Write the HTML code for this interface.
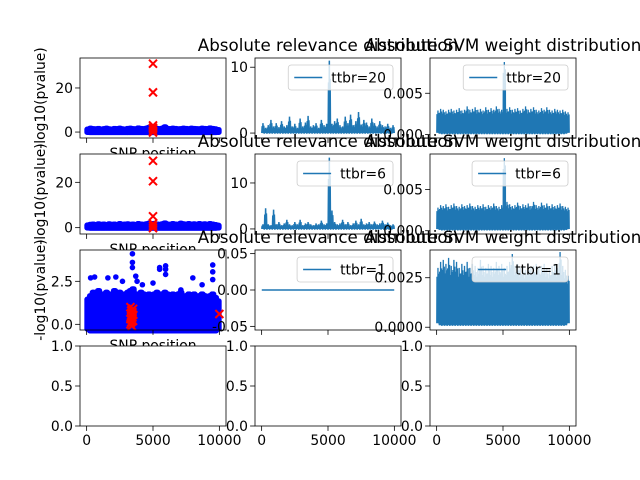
<!DOCTYPE html>
<html><head><meta charset="utf-8"><style>
html,body{margin:0;padding:0;background:#fff;}
svg{display:block;font-family:"DejaVu Sans","Liberation Sans",sans-serif;}
</style></head><body>
<svg id="fig" width="640" height="480" viewBox="0 0 640 480"></svg>
<script>
// ---------- data (50 bins of 200 SNPs each, 0..9999) ----------
const binCenters = [100,300,500,700,900,1100,1300,1500,1700,1900,2100,2300,2500,2700,2900,3100,3300,3500,3700,3900,4100,4300,4500,4700,4900,5100,5300,5500,5700,5900,6100,6300,6500,6700,6900,7100,7300,7500,7700,7900,8100,8300,8500,8700,8900,9100,9300,9500,9700,9900];
const xTicks = [0,5000,10000];
// column 1: -log10(pvalue) scatter envelopes
const pvalHigh20 = [2.4,2.8,2.6,2.5,2.7,2.4,2.6,2.8,2.5,2.4,2.7,2.6,2.8,2.5,2.4,2.7,2.8,2.6,2.5,2.9,2.7,2.6,2.8,3.2,3.0,3.1,2.7,2.6,2.8,3.4,2.7,2.6,2.8,2.7,2.5,2.6,2.8,2.7,2.5,2.8,2.7,2.6,2.5,2.8,2.7,2.6,2.9,2.7,2.5,2.2];
const pvalHigh6 = [2.2,2.5,2.6,2.4,2.7,2.5,2.6,2.4,2.7,2.5,2.6,2.4,2.8,2.5,2.6,2.7,2.5,2.6,2.4,2.8,2.6,2.5,2.7,3.0,2.8,2.9,2.6,2.5,2.7,3.1,2.6,2.5,2.8,2.6,2.5,3.0,2.7,2.6,2.8,2.6,2.7,2.5,2.8,2.6,2.7,2.5,2.8,2.6,2.4,2.1];
const pvalHigh1 = [1.6,1.8,2.0,1.9,2.1,1.8,1.9,2.0,1.9,1.8,2.1,1.9,2.0,1.8,1.9,2.0,2.1,2.2,1.9,1.8,2.0,1.9,1.8,1.9,1.8,1.9,2.0,1.8,1.9,2.0,1.9,1.8,1.9,1.8,1.9,2.0,1.7,1.8,1.9,1.8,1.9,1.7,1.8,1.9,1.8,1.7,1.8,1.9,1.7,1.5];
const pvalLow = [-0.3,-0.4,-0.4,-0.4,-0.4,-0.4,-0.4,-0.4,-0.4,-0.4,-0.4,-0.4,-0.4,-0.4,-0.4,-0.4,-0.4,-0.4,-0.4,-0.4,-0.4,-0.4,-0.4,-0.4,-0.4,-0.4,-0.4,-0.4,-0.4,-0.4,-0.4,-0.4,-0.4,-0.4,-0.4,-0.4,-0.4,-0.4,-0.4,-0.4,-0.4,-0.4,-0.4,-0.4,-0.4,-0.4,-0.4,-0.4,-0.4,-0.3];
const outX1 = [300,600,1600,2200,2700,3450,3450,3450,3700,3800,4200,5000,5500,5500,5950,5950,5950,7100,8000,8700,9500,9500,9500];
const outY1 = [2.7,2.75,2.7,2.75,2.5,4.1,3.6,3.3,2.8,2.5,2.3,2.4,3.3,3.2,3.4,3.2,2.9,2.0,2.7,2.3,3.45,3.05,2.6];
const causalX20 = [5000,5000,5000,5000,5000,5000,5000];
const causalY20 = [31,18,3,2,1.5,0.5,-0.2];
const causalX6 = [5000,5000,5000,5000,5000,5000];
const causalY6 = [29.5,20.5,5,1.8,0.8,-0.2];
const causalX1 = [3300,3350,3400,3450,3500,3300,3400,3500,3350,3450,3300,3400,3500,3350,3450,10000];
const causalY1 = [1.0,0.8,0.6,0.4,0.2,0.0,-0.1,0.9,0.5,0.7,0.3,0.15,0.55,0.1,0.85,0.6];
// column 2: absolute relevance envelopes
const relHigh20 = [1.5,0.8,1.2,2.0,1.0,1.5,0.9,1.8,1.0,1.2,2.5,1.0,1.4,0.8,2.2,1.0,1.6,2.6,1.0,1.2,1.5,0.8,2.0,1.2,1.4,11.0,1.4,1.8,2.2,1.2,1.0,2.5,1.5,2.8,1.2,1.8,3.2,1.3,2.0,1.6,1.0,2.2,1.5,1.0,1.8,1.2,1.0,1.4,0.8,1.2];
const relHigh6 = [1.0,4.5,1.0,0.8,4.2,1.0,1.5,0.8,1.2,2.0,1.0,0.8,1.5,1.0,2.0,0.8,1.2,1.5,1.0,0.8,1.2,1.0,1.8,1.0,1.2,15.5,4.0,1.5,1.0,1.2,2.0,1.0,1.5,0.8,1.2,1.8,1.0,2.2,1.0,1.2,1.5,1.0,1.6,1.0,1.2,1.8,1.0,1.4,0.8,1.0];
const relHigh1 = [0,0,0,0,0,0,0,0,0,0,0,0,0,0,0,0,0,0,0,0,0,0,0,0,0,0,0,0,0,0,0,0,0,0,0,0,0,0,0,0,0,0,0,0,0,0,0,0,0,0];
const relLow = [0,0,0,0,0,0,0,0,0,0,0,0,0,0,0,0,0,0,0,0,0,0,0,0,0,0,0,0,0,0,0,0,0,0,0,0,0,0,0,0,0,0,0,0,0,0,0,0,0,0];
// column 3: absolute SVM weight envelopes
const svmHigh20 = [0.0029,0.0031,0.0030,0.0028,0.0030,0.0031,0.0029,0.0030,0.0032,0.0029,0.0030,0.0034,0.0030,0.0031,0.0033,0.0030,0.0031,0.0029,0.0033,0.0030,0.0032,0.0030,0.0034,0.0031,0.0030,0.0088,0.0031,0.0033,0.0030,0.0031,0.0032,0.0029,0.0031,0.0034,0.0030,0.0031,0.0033,0.0030,0.0029,0.0032,0.0030,0.0033,0.0030,0.0029,0.0031,0.0030,0.0029,0.0030,0.0028,0.0027];
const svmHigh6 = [0.0028,0.0031,0.0030,0.0032,0.0029,0.0031,0.0033,0.0030,0.0029,0.0032,0.0030,0.0031,0.0033,0.0030,0.0029,0.0031,0.0030,0.0032,0.0029,0.0031,0.0030,0.0033,0.0030,0.0029,0.0031,0.0088,0.0035,0.0032,0.0030,0.0031,0.0034,0.0030,0.0032,0.0031,0.0033,0.0030,0.0035,0.0031,0.0030,0.0034,0.0031,0.0033,0.0030,0.0032,0.0030,0.0031,0.0033,0.0030,0.0029,0.0028];
const svmHigh1 = [0.0030,0.0033,0.0034,0.0032,0.0035,0.0031,0.0034,0.0033,0.0030,0.0032,0.0031,0.0033,0.0030,0.0032,0.0031,0.0030,0.0034,0.0031,0.0030,0.0032,0.0031,0.0030,0.0033,0.0031,0.0032,0.0030,0.0031,0.0033,0.0037,0.0031,0.0032,0.0030,0.0031,0.0029,0.0032,0.0030,0.0031,0.0032,0.0030,0.0031,0.0032,0.0030,0.0029,0.0031,0.0032,0.0030,0.0038,0.0031,0.0029,0.0026];
const svmLow = [0.0002,0.0001,0.0001,0.0001,0.0001,0.0001,0.0001,0.0001,0.0001,0.0001,0.0001,0.0001,0.0001,0.0001,0.0001,0.0001,0.0001,0.0001,0.0001,0.0001,0.0001,0.0001,0.0001,0.0001,0.0001,0.0001,0.0001,0.0001,0.0001,0.0001,0.0001,0.0001,0.0001,0.0001,0.0001,0.0001,0.0001,0.0001,0.0001,0.0001,0.0001,0.0001,0.0001,0.0001,0.0001,0.0001,0.0001,0.0001,0.0001,0.0002];
const ttbrLabels = ["ttbr=20","ttbr=6","ttbr=1"];

// ---------- layout ----------
const NS = "http://www.w3.org/2000/svg";
const svg = document.getElementById('fig');
const colX = [80,255,430], W = 146;
const rowY = [58,154,250,346], H = 80;
const XMIN = -500, XMAX = 10500;
const blue = "#1f77b4";
function mk(tag, attrs, parent){const e=document.createElementNS(NS,tag);for(const k in attrs)e.setAttribute(k,attrs[k]);(parent||svg).appendChild(e);return e;}
function xs(c){return v=>colX[c]+(v-XMIN)/(XMAX-XMIN)*W;}
function ys(r,lo,hi){return v=>rowY[r]+H-(v-lo)/(hi-lo)*H;}

const yLims = [
 [[-2.7,33.6],[-0.75,11.4],[-0.00043,0.00928]],
 [[-2.8,32.5],[-1.1,16.3],[-0.0004,0.0093]],
 [[-0.33,4.32],[-0.055,0.055],[-0.00014,0.0039]],
 [[0,1],[0,1],[0,1]]
];
const yTicks = [
 [[0,20],[0,10],[0.000,0.005]],
 [[0,20],[0,10],[0.000,0.005]],
 [[0.0,2.5],[-0.05,0.00,0.05],[0.0000,0.0025]],
 [[0.0,0.5,1.0],[0.0,0.5,1.0],[0.0,0.5,1.0]]
];
const yFmt = [
 [v=>String(v),v=>String(v),v=>v.toFixed(3)],
 [v=>String(v),v=>String(v),v=>v.toFixed(3)],
 [v=>v.toFixed(1),v=>v.toFixed(2),v=>v.toFixed(4)],
 [v=>v.toFixed(1),v=>v.toFixed(1),v=>v.toFixed(1)]
];
const pvalHighs=[pvalHigh20,pvalHigh6,pvalHigh1];
const causalXs=[causalX20,causalX6,causalX1], causalYs=[causalY20,causalY6,causalY1];
const relHighs=[relHigh20,relHigh6,relHigh1];
const svmHighs=[svmHigh20,svmHigh6,svmHigh1];

function xmark(g,x,y,s){
  const p=mk('path',{d:`M${x-s},${y-s}L${x+s},${y+s}M${x-s},${y+s}L${x+s},${y-s}`,stroke:'red','stroke-width':2,fill:'none'},g);
  
  
}

let clipId=0;
for(let r=0;r<4;r++){
 for(let c=0;c<3;c++){
  const g=mk('g',{});
  
  
  const X=xs(c), [lo,hi]=yLims[r][c], Y=ys(r,lo,hi);
  mk('rect',{x:colX[c],y:rowY[r],width:W,height:H,fill:'#fff'},g);
  const cp=mk('clipPath',{id:'cp'+(++clipId)},g);
  mk('rect',{x:colX[c]-4,y:rowY[r]-4,width:W+8,height:H+8},cp);
  const dg=mk('g',{'clip-path':`url(#cp${clipId})`},g);
  if(r<3){
   if(c===0){
    const hiArr=pvalHighs[r];
    for(let i=0;i<binCenters.length;i++){
     for(let k=-1;k<=1;k++){
      const bx=binCenters[i]+k*66;
      const y1=Y(pvalLow[i]), y2=Y(hiArr[i]);
      const ln=mk('line',{x1:X(bx),x2:X(bx),y1:y1-0.5,y2:y2+2.5,stroke:'blue','stroke-width':5.5,'stroke-linecap':'round'},dg);
      
      
     }
    }
    if(r===2){
     for(let i=0;i<outX1.length;i++){
      const ci=mk('circle',{cx:X(outX1[i]),cy:Y(outY1[i]),r:2.8,fill:'blue'},dg);
      
      
     }
    }
    const cx=causalXs[r], cy=causalYs[r];
    for(let i=0;i<cx.length;i++) xmark(dg,X(cx[i]),Y(cy[i]),4);
   } else {
    const hiArr = c===1?relHighs[r]:svmHighs[r];
    const loArr = c===1?relLow:svmLow;
    let d='';
    for(let i=0;i<binCenters.length;i++){
     const b=binCenters[i];
     const pts=[[b-90,loArr[i]],[b-60,hiArr[i]*0.7],[b-30,loArr[i]],[b,hiArr[i]],[b+30,loArr[i]],[b+60,hiArr[i]*0.75],[b+90,loArr[i]]];
     if(c===2){pts.splice(1,0,[b-75,hiArr[i]*0.85],[b-70,loArr[i]]);pts.push([b+75,hiArr[i]*0.9],[b+80,loArr[i]]);}
     for(const p of pts){d+=(d?'L':'M')+X(p[0]).toFixed(2)+','+Y(p[1]).toFixed(2);}
    }
    const p=mk('path',{d:d,fill:'none',stroke:blue,'stroke-width':c===2?1.3:1.5,'stroke-linejoin':'miter'},dg);
    
    
   }
  }
  const fr=mk('rect',{x:colX[c],y:rowY[r],width:W,height:H,fill:'none',stroke:'#000','stroke-width':0.8},g);
  
  
  for(const t of xTicks){
   const tx=X(t);
   mk('line',{x1:tx,x2:tx,y1:rowY[r]+H,y2:rowY[r]+H+4.9,stroke:'#000','stroke-width':0.8},g);
   if(r===3){
    const tl=mk('text',{x:tx,y:rowY[r]+H+19,'font-size':13.9,'text-anchor':'middle',fill:'#000'},g);
    tl.textContent=String(t);
    
    
   }
  }
  for(const t of yTicks[r][c]){
   const ty=Y(t);
   mk('line',{x1:colX[c]-4.9,x2:colX[c],y1:ty,y2:ty,stroke:'#000','stroke-width':0.8},g);
   const tl=mk('text',{x:colX[c]-7,y:ty+5,'font-size':13.9,'text-anchor':'end',fill:'#000'},g);
   tl.textContent=yFmt[r][c](t);
   
   
  }
  if(r<3 && c===0){
   const xl=mk('text',{x:colX[c]+W/2,y:rowY[r]+H+20,'font-size':13.9,'text-anchor':'middle',fill:'#000'},g);
   xl.textContent='SNP position';
   
   
   const cyy=rowY[r]+H/2;
   const yl=mk('text',{x:45,y:cyy,'font-size':13.9,'text-anchor':'middle',fill:'#000',transform:`rotate(-90 45 ${cyy})`},g);
   yl.textContent='-log10(pvalue)';
   
   
  }
  if(r<3 && c>0){
   const lg=mk('g',{},g);
   
   
   const box=mk('rect',{x:0,y:rowY[r]+7,width:10,height:25,rx:3,fill:'#fff','fill-opacity':0.8,stroke:'#cccccc','stroke-width':0.8},lg);
   const ln=mk('line',{stroke:blue,'stroke-width':1.5},lg);
   const tx=mk('text',{y:rowY[r]+24.5,'font-size':13.9,fill:'#000'},lg);
   tx.textContent=ttbrLabels[r];
   
   
   let tw=7.8*ttbrLabels[r].length; try{tw=tx.getComputedTextLength()||tw;}catch(e){}
   const bw=43+tw+7, right=colX[c]+W-8, left=right-bw;
   box.setAttribute('x',left); box.setAttribute('width',bw);
   ln.setAttribute('x1',left+6); ln.setAttribute('x2',left+34);
   ln.setAttribute('y1',rowY[r]+19.5); ln.setAttribute('y2',rowY[r]+19.5);
   tx.setAttribute('x',left+43);
  }
  if(r<3 && c>0){
   const tt=mk('text',{x:colX[c]+W/2,y:rowY[r]-7,'font-size':16.7,'text-anchor':'middle',fill:'#000'},g);
   tt.textContent=c===1?'Absolute relevance distribution':'Absolute SVM weight distribution';
   
   
  }
 }
}
</script>
</body></html>
